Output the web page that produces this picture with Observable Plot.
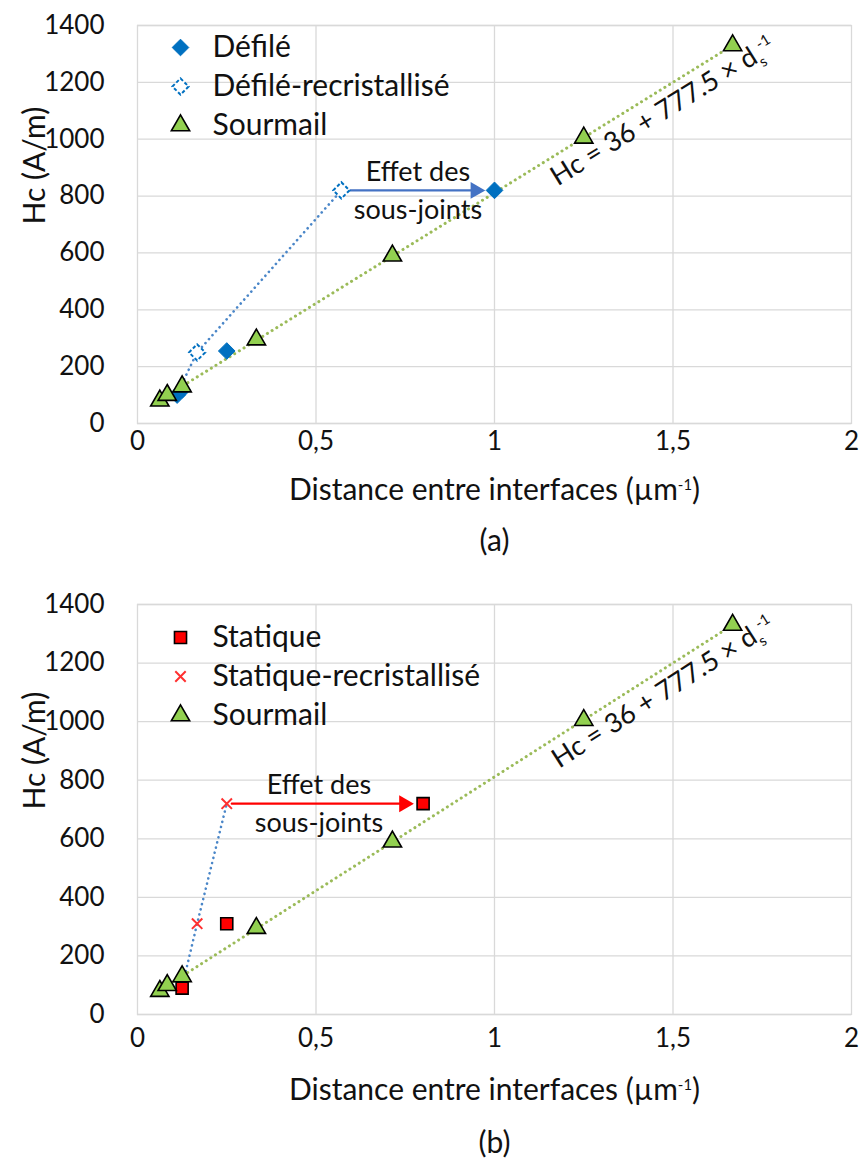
<!DOCTYPE html>
<html><head><meta charset="utf-8">
<script src="https://cdn.jsdelivr.net/npm/d3@7"></script>
<script src="https://cdn.jsdelivr.net/npm/@observablehq/plot@0.6"></script>
<style>
body{margin:0;background:#fff;}
#wrap{width:862px;}
svg{display:block;}
</style>
</head><body><div id="wrap"></div>
<script>
// ---- axis ticks ----
const xTicks = [0, 0.5, 1, 1.5, 2];
const xTickLabels = ["0", "0,5", "1", "1,5", "2"];
const yTicks = [0, 200, 400, 600, 800, 1000, 1200, 1400];
const xTitle = "Distance entre interfaces (µm^{-1})";
const yTitle = "Hc (A/m)";

// ---- Sourmail reference data (both panels) ----
const sourmailX  = [0.0625, 0.0833, 0.125, 0.333, 0.714, 1.25, 1.667];
const sourmailHc = [80, 100, 130, 295, 590, 1005, 1330];
const fitIntercept = 36;
const fitSlope = 777.5;
const eqLabel = "Hc = 36 + 777.5 × d_{s}^{-1}";

// ---- panel (a) ----
const defileX  = [0.111, 0.125, 0.25, 1.0];
const defileHc = [100, 118, 255, 820];
const defileRecX  = [0.167, 0.571];
const defileRecHc = [250, 820];
const defileRecPathX  = [0.111, 0.167, 0.571];
const defileRecPathHc = [105, 250, 820];
const arrowAFrom = [0.571], arrowATo = [1.0], arrowAHc = [820];
const legendA = ["Défilé", "Défilé-recristallisé", "Sourmail"];

// ---- panel (b) ----
const statiqueX  = [0.125, 0.25, 0.8];
const statiqueHc = [90, 310, 720];
const statiqueRecX  = [0.167, 0.25];
const statiqueRecHc = [310, 720];
const statiqueRecPathX  = [0.125, 0.167, 0.25];
const statiqueRecPathHc = [95, 310, 720];
const arrowBFrom = [0.25], arrowBTo = [0.8], arrowBHc = [720];
const legendB = ["Statique", "Statique-recristallisé", "Sourmail"];

const annotLines = ["Effet des", "sous-joints"];

const FONT = "Lato, 'Open Sans', 'Liberation Sans', sans-serif";
const rows = (xs, ys) => xs.map((x, i) => ({x, y: ys[i]}));

function richify(svg) {
  d3.select(svg).selectAll("text").each(function() {
    const t = this.textContent;
    if (!/[_^]\{/.test(t)) return;
    const fs = parseFloat(getComputedStyle(this).fontSize) || 24;
    const el = d3.select(this);
    el.text(null);
    let off = 0;
    t.split(/([_^]\{[^}]*\})/).forEach(p => {
      if (!p) return;
      const m = p.match(/^([_^])\{([^}]*)\}$/);
      let target = 0, txt = p, size = null;
      if (m) { target = m[1] === "_" ? fs * 0.28 : -fs * 0.42; txt = m[2]; size = fs * 0.62; }
      const ts = el.append("tspan").attr("dy", target - off).text(txt);
      if (size) ts.attr("font-size", size);
      off = target;
    });
  });
}

function chart(o) {
  const width = 862, height = o.height;
  const innerW = width - o.ml - o.mr, innerH = height - o.mt - o.mb;
  const theta = Math.atan(fitSlope * (innerH / 1400) / (innerW / 2));
  const deg = theta * 180 / Math.PI;
  const eqX = (sourmailX[5] + sourmailX[6]) / 2;
  const eqRow = [{x: eqX, y: fitIntercept + fitSlope * eqX, t: eqLabel}];
  const perp = 24;
  const arrow = o.arrow.map(a => ({...a, mid: (a.x1 + a.x2) / 2}));
  const headH = 15;
  const TXT = 30;
  const marks = [
    Plot.gridY(yTicks, {stroke: "#d9d9d9", strokeOpacity: 1, strokeWidth: 1.3}),
    Plot.gridX(xTicks.slice(1, -1), {stroke: "#d9d9d9", strokeOpacity: 1, strokeWidth: 1.3}),
    Plot.frame({stroke: "#d9d9d9", strokeWidth: 1.3}),
    Plot.axisY({ticks: yTicks, tickSize: 0, tickPadding: 33, label: null, fontSize: 26, fill: "#111",
      tickFormat: d => String(d)}),
    Plot.axisX({ticks: xTicks, tickSize: 0, tickPadding: o.xPad, label: null, fontSize: 26, fill: "#111",
      tickFormat: d => xTickLabels[xTicks.indexOf(d)]}),
    Plot.text([xTitle], {text: d => d, frameAnchor: "bottom", lineAnchor: "middle", dy: o.xTitleDy, fontSize: TXT, fill: "#111"}),
    Plot.text([yTitle], {text: d => d, frameAnchor: "left", dx: -102, rotate: -90, fontSize: TXT, fill: "#111"}),
    Plot.text([o.caption], {text: d => d, frameAnchor: "bottom", lineAnchor: "middle", dy: o.capDy, fontSize: TXT, fill: "#111"}),
    // recrystallised dotted path
    Plot.line(rows(o.pathX, o.pathHc), {x: "x", y: "y", stroke: "#4a86c8", strokeWidth: 2.6,
      strokeDasharray: "0.1,5.2", strokeLinecap: "round"}),
    // Sourmail fit
    Plot.linearRegressionY(rows(sourmailX, sourmailHc), {x: "x", y: "y", ci: 0, stroke: "#9bbb59",
      strokeWidth: 3, strokeDasharray: "0.1,5.4", strokeLinecap: "round"}),
    // arrow shaft + head
    Plot.arrow(arrow, {x1: "x1", x2: "x2", y1: "y", y2: "y", stroke: o.arrowColor, strokeWidth: 2.2,
      headLength: 0, insetStart: o.insetStart, insetEnd: o.insetEnd + headH - 2}),
    Plot.dot(arrow, {x: "x2", y: "y", symbol: "triangle", rotate: 90, r: 6.3, fill: o.arrowColor,
      dx: -(o.insetEnd + headH * 2 / 3)}),
    Plot.text(arrow, {x: "mid", y: "y", text: () => annotLines[0], dy: -18, dx: o.annotDx, fontSize: 27, fill: "#111"}),
    Plot.text(arrow, {x: "mid", y: "y", text: () => annotLines[1], dy: 20, dx: o.annotDx, fontSize: 27, fill: "#111"}),
    // series
    ...o.series.map(s => Plot.dot(rows(s.x, s.y), {x: "x", y: "y", ...s.style})),
    Plot.dot(rows(sourmailX, sourmailHc), {x: "x", y: "y", ...triStyle}),
    // equation
    Plot.text(eqRow, {x: "x", y: "y", text: "t", rotate: -deg, fontSize: 27, fill: "#111",
      dx: perp * Math.sin(theta) - 8, dy: perp * Math.cos(theta)}),
    // legend
    ...o.legend.flatMap((lab, i) => [
      Plot.dot([lab], {frameAnchor: "top-left", dx: 43, dy: o.legDy + 39 * i, ...o.legendStyles[i]}),
      Plot.text([lab], {text: d => d, frameAnchor: "top-left", lineAnchor: "middle", dx: 75, dy: o.legDy + 39 * i,
        textAnchor: "start", fontSize: TXT, fill: "#111"})
    ])
  ];
  const svg = Plot.plot({
    width, height,
    marginLeft: o.ml, marginRight: o.mr, marginTop: o.mt, marginBottom: o.mb,
    x: {domain: [0, 2]},
    y: {domain: [0, 1400]},
    style: {fontFamily: FONT, fontSize: "26px", background: "#fff", color: "#111"},
    marks
  });
  richify(svg);
  return svg;
}

const triStyle = {symbol: "triangle", r: 6.8, fill: "#92d050", stroke: "#000", strokeWidth: 1.6};
const diamondFill = {symbol: "diamond2", r: 7.5, fill: "#0070c0", stroke: "#0070c0", strokeWidth: 1};
const diamondOpen = {symbol: "diamond2", r: 7.3, fill: "#fff", stroke: "#0070c0", strokeWidth: 2, strokeDasharray: "3.5,2.2"};
const squareStyle = {symbol: "square", r: 6.8, fill: "#ff0000", stroke: "#000", strokeWidth: 1.6};
const timesStyle = {symbol: "times", r: 4.8, stroke: "#ff3030", strokeWidth: 2};

const wrap = document.getElementById("wrap");
wrap.append(chart({
  height: 582, ml: 137, mr: 11, mt: 25, mb: 159,
  xPad: 8, xTitleDy: 67, capDy: 118, legDy: 22, annotDx: 0,
  pathX: defileRecPathX, pathHc: defileRecPathHc,
  arrow: [{x1: arrowAFrom[0], x2: arrowATo[0], y: arrowAHc[0]}],
  arrowColor: "#4472c4", insetStart: 9, insetEnd: 9,
  series: [
    {x: defileX, y: defileHc, style: diamondFill},
    {x: defileRecX, y: defileRecHc, style: diamondOpen}
  ],
  legend: legendA, legendStyles: [diamondFill, diamondOpen, triStyle],
  caption: "(a)"
}));
wrap.append(chart({
  height: 582, ml: 137, mr: 11, mt: 22, mb: 150,
  xPad: 14, xTitleDy: 76, capDy: 129, legDy: 33, annotDx: -6,
  pathX: statiqueRecPathX, pathHc: statiqueRecPathHc,
  arrow: [{x1: arrowBFrom[0], x2: arrowBTo[0], y: arrowBHc[0]}],
  arrowColor: "#ff0000", insetStart: 5, insetEnd: 9,
  series: [
    {x: statiqueX, y: statiqueHc, style: squareStyle},
    {x: statiqueRecX, y: statiqueRecHc, style: timesStyle}
  ],
  legend: legendB, legendStyles: [squareStyle, timesStyle, triStyle],
  caption: "(b)"
}));
</script>
</body></html>
